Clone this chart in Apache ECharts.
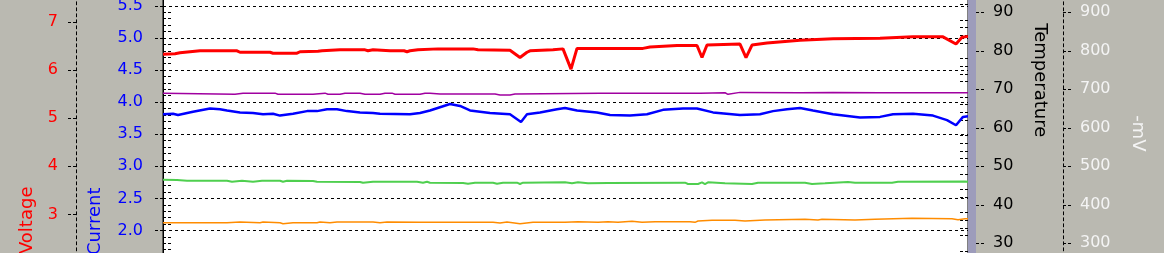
<!DOCTYPE html>
<html>
<head>
<meta charset="utf-8">
<script src="https://cdn.jsdelivr.net/npm/echarts@6/dist/echarts.min.js"></script>
<style>
html,body{margin:0;padding:0;background:#bab9b1;}
#chart{width:1164px;height:253px;}
</style>
</head>
<body>
<div id="chart"></div>
<script>
// ---- data (time in samples, values in axis units) ----
const voltageT = [0,12,17,37,74,77,107,110,134,137,155,159,177,202,205,210,227,241,244,247,255,275,310,315,347,357,364,367,390,400,408,414,480,487,514,534,539,544,577,583,589,604,637,670,717,750,780,793,799,805];
const voltageV = [6.33,6.34,6.36,6.40,6.40,6.37,6.37,6.35,6.35,6.38,6.39,6.40,6.42,6.42,6.40,6.42,6.40,6.40,6.38,6.40,6.42,6.44,6.44,6.42,6.41,6.26,6.37,6.40,6.42,6.44,6.02,6.45,6.45,6.48,6.51,6.51,6.26,6.52,6.54,6.26,6.52,6.56,6.62,6.65,6.66,6.69,6.69,6.54,6.68,6.70];

const currentT = [0,10,15,30,47,57,64,77,90,100,110,117,130,144,154,164,174,184,197,210,217,247,257,267,277,287,297,307,327,347,358,364,377,394,402,414,434,447,467,484,500,520,534,550,577,597,610,624,637,650,670,697,717,730,750,770,784,793,800,805];
const currentV = [3.81,3.82,3.80,3.85,3.90,3.89,3.87,3.84,3.83,3.81,3.82,3.79,3.82,3.86,3.86,3.89,3.89,3.86,3.84,3.83,3.82,3.81,3.83,3.87,3.92,3.97,3.94,3.87,3.83,3.81,3.69,3.81,3.84,3.89,3.91,3.87,3.84,3.80,3.79,3.81,3.88,3.90,3.90,3.84,3.80,3.81,3.86,3.89,3.91,3.87,3.81,3.76,3.77,3.81,3.82,3.79,3.72,3.64,3.77,3.78];

const mvT = [0,72,80,112,115,117,120,150,152,162,165,177,182,197,202,217,222,229,232,257,262,267,277,332,337,347,352,437,537,562,565,577,637,670,717,805];
const mvV = [690,687,690,690,687,691,687,687,690,690,687,687,690,690,687,687,690,690,687,687,690,690,688,688,685,685,688,690,690,691,687,692,691,692,691,691];

const tempAT = [0,14,24,64,69,79,90,99,117,120,124,150,154,197,200,210,254,260,264,267,300,305,312,330,334,340,354,357,360,402,409,415,425,445,522,525,535,539,542,545,562,589,595,642,649,662,685,692,729,735,802,805];
const tempAV = [46.52,46.44,46.26,46.26,46.0,46.26,46.0,46.26,46.26,46.0,46.26,46.18,46.0,45.92,45.74,46.0,46.0,45.74,46.0,45.74,45.66,45.48,45.74,45.74,45.48,45.74,45.74,45.40,45.74,45.84,45.58,45.84,45.58,45.66,45.74,45.40,45.40,45.84,45.40,45.84,45.58,45.40,45.74,45.74,45.40,45.58,45.92,45.74,45.74,46.0,46.08,46.0];

const tempBT = [0,64,77,97,100,117,120,130,154,157,167,174,210,217,224,257,330,337,344,357,370,402,415,435,445,455,469,479,492,527,532,535,549,572,582,602,642,655,659,692,712,749,789,795,802,805];
const tempBV = [35.35,35.35,35.53,35.35,35.53,35.35,35.09,35.35,35.35,35.53,35.35,35.53,35.53,35.35,35.53,35.45,35.45,35.30,35.53,35.09,35.45,35.45,35.61,35.45,35.61,35.45,35.71,35.45,35.61,35.61,35.45,35.79,35.97,35.97,35.79,36.05,36.23,36.05,36.23,36.05,36.23,36.49,36.39,36.13,36.39,36.39];

const axisNames = ['Voltage','Current','Temperature','-mV'];

function zip(t, v){ return t.map((x,i)=>[x, v[i]]); }

const FONT = 'DejaVu Sans';
const dash = [3,3];

const chart = echarts.init(document.getElementById('chart'), null, {renderer:'canvas'});
const option = {
  animation:false,
  backgroundColor:'#bab9b1',
  grid:{left:163, right:196, top:-26.2, bottom:-105.8, show:true, backgroundColor:'#ffffff', borderColor:'#000000', borderWidth:1, containLabel:false, outerBoundsMode:'none'},
  graphic:[{type:'rect', right:188, top:0, shape:{width:8, height:253}, style:{fill:'#9d9cbb'}, z:100}],
  xAxis:{type:'value', min:0, max:805, show:false, axisLine:{onZero:false}},
  yAxis:[
    {type:'value', min:0, max:8, interval:1, position:'left', offset:87,
     name:axisNames[0], nameLocation:'middle', nameGap:40, nameRotate:90, nameMoveOverlap:false,
     nameTextStyle:{color:'#ff0000', fontSize:18, fontFamily:FONT, padding:[0,108,0,0]},
     axisLine:{show:true, onZero:false, lineStyle:{color:'#000', width:1, type:dash}},
     axisTick:{show:true, length:9, lineStyle:{color:'#000', type:[3,2]}},
     axisLabel:{color:'#ff0000', fontSize:16, fontFamily:FONT, margin:18},
     splitLine:{show:false}},
    {type:'value', min:0, max:6, interval:0.5, position:'left', offset:0,
     name:axisNames[1], nameLocation:'middle', nameGap:59, nameRotate:90, nameMoveOverlap:false,
     nameTextStyle:{color:'#0000ff', fontSize:18, fontFamily:FONT, padding:[0,110,0,0]},
     axisLine:{show:true, onZero:false, lineStyle:{color:'#000', width:1}},
     axisTick:{show:true, length:8, lineStyle:{color:'#000', type:[3,2]}},
     axisLabel:{color:'#0000ff', fontSize:16, fontFamily:FONT, margin:20, formatter:v=>v.toFixed(1)},
     splitLine:{show:true, lineStyle:{color:'#000', width:1, type:dash}}},
    {type:'value', min:0, max:6, interval:0.5, position:'left', offset:0,
     axisLine:{show:false, onZero:false}, axisTick:{show:false, inside:true}, axisLabel:{show:false},
     minorTick:{show:true, splitNumber:5, length:8, lineStyle:{color:'#000', type:[3,2]}},
     splitLine:{show:false}},
    {type:'value', min:0, max:100, interval:10, position:'right', offset:8,
     name:axisNames[2], nameLocation:'middle', nameGap:55, nameRotate:-90, nameMoveOverlap:false,
     nameTextStyle:{color:'#000000', fontSize:18, fontFamily:FONT, padding:[0,172,0,0]},
     axisLine:{show:false, onZero:false},
     axisTick:{show:true, length:8, lineStyle:{color:'#000', type:[3,2]}},
     axisLabel:{color:'#000000', fontSize:16, fontFamily:FONT, margin:17},
     splitLine:{show:false}},
    {type:'value', min:0, max:100, interval:10, position:'right', offset:0,
     axisLine:{show:false, onZero:false}, axisTick:{show:false, inside:true}, axisLabel:{show:false},
     minorTick:{show:true, splitNumber:5, length:9, lineStyle:{color:'#000', type:[3,2]}},
     splitLine:{show:false}},
    {type:'value', min:0, max:1000, interval:100, position:'right', offset:95,
     name:axisNames[3], nameLocation:'middle', nameGap:66, nameRotate:-90, nameMoveOverlap:false,
     nameTextStyle:{color:'#f4f4f4', fontSize:18, fontFamily:FONT, padding:[0,66,0,0]},
     axisLine:{show:true, onZero:false, lineStyle:{color:'#000', width:1, type:dash}},
     axisTick:{show:true, length:9, lineStyle:{color:'#000', type:[3,2]}},
     axisLabel:{color:'#f4f4f4', fontSize:16, fontFamily:FONT, margin:17, formatter:v=>String(v)},
     splitLine:{show:false}}
  ],
  series:[
    {name:'Temperature B', type:'line', yAxisIndex:3, data:zip(tempBT,tempBV), showSymbol:false, lineStyle:{color:'#ff8c00', width:1.5}, itemStyle:{color:'#ff8c00'}},
    {name:'Temperature A', type:'line', yAxisIndex:3, data:zip(tempAT,tempAV), showSymbol:false, lineStyle:{color:'#4fcf4f', width:2}, itemStyle:{color:'#4fcf4f'}},
    {name:'mV', type:'line', yAxisIndex:5, data:zip(mvT,mvV), showSymbol:false, lineStyle:{color:'#a000a0', width:1.5}, itemStyle:{color:'#a000a0'}},
    {name:'Current', type:'line', yAxisIndex:1, data:zip(currentT,currentV), showSymbol:false, lineStyle:{color:'#0000ff', width:2.5}, itemStyle:{color:'#0000ff'}},
    {name:'Voltage', type:'line', yAxisIndex:0, data:zip(voltageT,voltageV), showSymbol:false, lineStyle:{color:'#ff0000', width:3}, itemStyle:{color:'#ff0000'}}
  ]
};
chart.setOption(option);
</script>
</body>
</html>
